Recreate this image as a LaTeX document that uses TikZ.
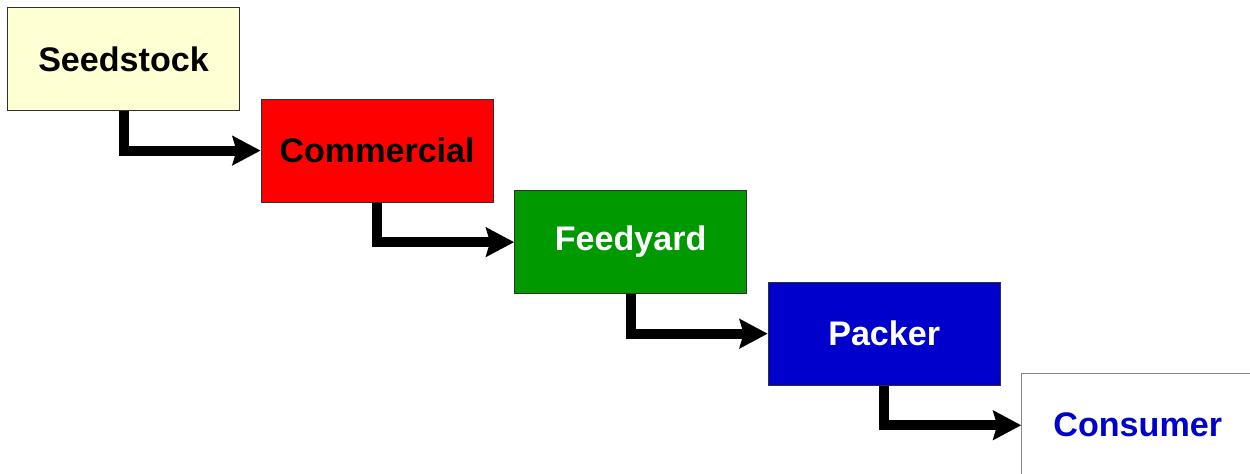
\documentclass[tikz,border=0pt]{standalone}
\usepackage{fontspec}
\setmainfont{Liberation Sans}
\usetikzlibrary{arrows.meta,positioning}
\definecolor{seed}{HTML}{FFFFD4}
\definecolor{comm}{HTML}{FF0000}
\definecolor{feed}{HTML}{009900}
\definecolor{pack}{HTML}{0000CC}
\definecolor{cons}{HTML}{FFFFFF}
\definecolor{consink}{HTML}{0000CC}
\definecolor{ink}{HTML}{303030}
\tikzset{
  every node/.style={font=\fontsize{19.4}{22}\selectfont\bfseries},
  stagebox/.style={draw=ink,line width=0.6pt,minimum width=4.64cm,minimum height=2.06cm,inner sep=0pt,align=center},
  seedbox/.style={stagebox,fill=seed,text=black},
  commbox/.style={stagebox,fill=comm,text=black},
  feedbox/.style={stagebox,fill=feed,text=white},
  packbox/.style={stagebox,fill=pack,text=white},
  consbox/.style={stagebox,fill=cons,draw=ink!60,text=consink},
  flow/.style={-{Stealth[length=0.56cm,width=0.58cm,inset=0.08cm]},line width=0.2cm,draw=black},
}
\begin{document}
\begin{tikzpicture}[node distance=-0.25cm and 0.41cm]
\useasboundingbox (0,0) rectangle (25,-9.48);
\clip (0,0) rectangle (25,-9.48);

\node[seedbox,anchor=north west] (seed) at (0.14,-0.14) {Seedstock};
\node[commbox,below right=of seed] (comm) {Commercial};
\node[feedbox,below right=of comm] (feed) {Feedyard};
\node[packbox,below right=of feed] (pack) {Packer};
\node[consbox,below right=of pack] (cons) {Consumer};
\foreach \a/\b in {seed/comm,comm/feed,feed/pack,pack/cons}{\draw[flow] (\a.south) |- (\b.west);}

\end{tikzpicture}
\end{document}
